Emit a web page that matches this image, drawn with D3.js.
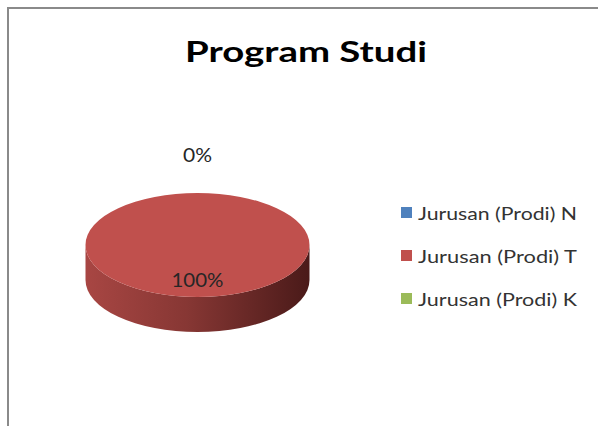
<!DOCTYPE html>
<html>
<head>
<meta charset="utf-8">
<script src="https://cdn.jsdelivr.net/npm/d3@7"></script>
<style>
  body { margin: 0; background: #fff; }
  svg { display: block; }
  text { font-family: Lato, "Open Sans", sans-serif; }
</style>
</head>
<body>
<script>
// chart data
var title = "Program Studi";
var categories = ["Jurusan (Prodi) N", "Jurusan (Prodi) T", "Jurusan (Prodi) K"];
var values = [0, 100, 0];
var colors = ["#4f81bd", "#c0504d", "#9bbb59"];
var sideColors = [["#5a86bd", "#2a4468"], ["#a84643", "#4a1a19"], ["#a3bd6a", "#4d6128"]];

var width = 598, height = 426;

// pie geometry (ellipse for the 3d look)
var cx = 197.5, cy = 245, rx = 112, ry = 52, depth = 35;

var svg = d3.select("body").append("svg")
    .attr("width", width)
    .attr("height", height);

var defs = svg.append("defs");

// frame, cut off on the right and bottom like the reference
svg.append("rect")
    .attr("x", 8).attr("y", 8)
    .attr("width", width + 20).attr("height", height + 20)
    .attr("fill", "#fff")
    .attr("stroke", "#8a8a8a")
    .attr("stroke-width", 2);

svg.append("text")
    .attr("x", 306)
    .attr("y", 62)
    .attr("text-anchor", "middle")
    .attr("font-size", 29)
    .attr("font-weight", "bold")
    .attr("fill", "#000")
    .attr("textLength", 242)
    .attr("lengthAdjust", "spacingAndGlyphs")
    .text(title);

var total = d3.sum(values);
var arcs = d3.pie().sort(null)(values);

// point on the ellipse for a pie angle (0 = top, clockwise)
function pt(a, k, dy) {
  return [cx + rx * k * Math.sin(a), cy - ry * k * Math.cos(a) + (dy || 0)];
}

var pieG = svg.append("g");

// side walls: only the front half (angles PI/2 .. 3PI/2) is visible
arcs.forEach(function(d, i) {
  var a0 = Math.max(d.startAngle, Math.PI / 2),
      a1 = Math.min(d.endAngle, 3 * Math.PI / 2);
  if (a1 <= a0) return;
  var gid = "side" + i;
  var g = defs.append("linearGradient")
      .attr("id", gid)
      .attr("gradientUnits", "userSpaceOnUse")
      .attr("x1", cx - rx).attr("x2", cx + rx)
      .attr("y1", 0).attr("y2", 0);
  g.append("stop").attr("offset", "0%").attr("stop-color", sideColors[i][0]);
  g.append("stop").attr("offset", "45%").attr("stop-color", d3.interpolateRgb(sideColors[i][0], sideColors[i][1])(0.35));
  g.append("stop").attr("offset", "100%").attr("stop-color", sideColors[i][1]);

  var p0 = pt(a0, 1), p1 = pt(a1, 1);
  var large = (a1 - a0) > Math.PI ? 1 : 0;
  var path = "M" + p0 + " A" + rx + "," + ry + " 0 " + large + " 1 " + p1 +
      " L" + pt(a1, 1, depth) +
      " A" + rx + "," + ry + " 0 " + large + " 0 " + pt(a0, 1, depth) + " Z";
  pieG.append("path")
      .attr("d", path)
      .attr("fill", "url(#" + gid + ")");
});

// top faces
arcs.forEach(function(d, i) {
  var span = d.endAngle - d.startAngle;
  if (span <= 0) return;
  var path;
  if (span >= 2 * Math.PI - 1e-6) {
    path = "M" + pt(0, 1) + " A" + rx + "," + ry + " 0 1 1 " + pt(Math.PI, 1) +
           " A" + rx + "," + ry + " 0 1 1 " + pt(0, 1) + " Z";
  } else {
    path = "M" + [cx, cy] + " L" + pt(d.startAngle, 1) +
           " A" + rx + "," + ry + " 0 " + (span > Math.PI ? 1 : 0) + " 1 " + pt(d.endAngle, 1) + " Z";
  }
  pieG.append("path")
      .attr("d", path)
      .attr("fill", colors[i]);
});

// data labels: empty slices sit outside the pie top, others inside
var fmt = function(v) { return Math.round(v / total * 100) + "%"; };
var labelDone = {};
arcs.forEach(function(d) {
  var mid = (d.startAngle + d.endAngle) / 2;
  var inside = d.value > 0;
  var p = inside ? pt(mid, 0.68) : pt(mid, 1.74);
  var key = Math.round(p[0]) + "," + Math.round(p[1]);
  if (labelDone[key]) return;
  labelDone[key] = true;
  var s = fmt(d.value);
  svg.append("text")
      .attr("x", p[0])
      .attr("y", p[1] + 7)
      .attr("text-anchor", "middle")
      .attr("font-size", 20)
      .attr("fill", "#262626")
      .attr("textLength", s.length === 2 ? 29 : 52)
      .attr("lengthAdjust", "spacingAndGlyphs")
      .text(s);
});

// legend
var legend = svg.append("g")
    .attr("transform", "translate(401,207)");

var item = legend.selectAll("g")
    .data(categories)
  .enter().append("g")
    .attr("transform", function(d, i) { return "translate(0," + (i * 43) + ")"; });

item.append("rect")
    .attr("width", 11)
    .attr("height", 11)
    .attr("fill", function(d, i) { return colors[i]; });

item.append("text")
    .attr("x", 17)
    .attr("y", 12.5)
    .attr("font-size", 17.7)
    .attr("fill", "#333")
    .attr("textLength", 159)
    .attr("lengthAdjust", "spacingAndGlyphs")
    .text(function(d) { return d; });
</script>
</body>
</html>
